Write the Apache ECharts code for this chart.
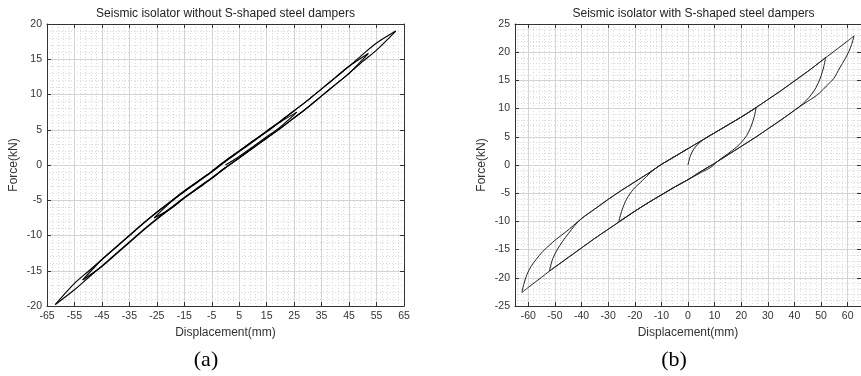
<!DOCTYPE html>
<html><head><meta charset="utf-8">
<script src="https://cdn.jsdelivr.net/npm/echarts@6/dist/echarts.min.js"></script>
<style>html,body{margin:0;padding:0;background:#fff}#c{width:861px;height:376px}</style>
</head><body><div id="c"></div><script>
// ---------- tick labels ----------
const xTicksRight = [-60,-50,-40,-30,-20,-10,0,10,20,30,40,50,60];
const xMinorRight = [-64,-62,-58,-56,-54,-52,-48,-46,-44,-42,-38,-36,-34,-32,-28,-26,-24,-22,-18,-16,-14,-12,-8,-6,-4,-2,2,4,6,8,12,14,16,18,22,24,26,28,32,34,36,38,42,44,46,48,52,54,56,58,62,64];

// ---------- (a) isolator without dampers : branches [disp(mm), force(kN)] ----------
const a1 = [[0,0],[5,1.2],[10,2.6],[15,4.0],[20,5.4],[26,7.5]];
const a2 = [[26,7.5],[20,6.1],[15,4.7],[10,3.3],[5,1.9],[0,0.5],[-5,-1.0],[-10,-2.4],[-15,-3.8],[-20,-5.3],[-26,-7.5]];
const a3 = [[-26,-7.5],[-20,-6.2],[-15,-4.7],[-10,-3.3],[-5,-1.9],[0,-0.4],[5,1.0],[10,2.4],[15,3.8],[20,5.2],[25,6.7],[30,8.2],[35,9.8],[40,11.4],[45,13.0],[52,15.8]];
const a4 = [[52,15.8],[45,14.0],[40,12.4],[35,10.8],[30,9.2],[25,7.7],[20,6.2],[15,4.8],[10,3.4],[5,2.0],[0,0.6],[-5,-0.9],[-10,-2.3],[-15,-3.7],[-20,-5.2],[-25,-6.7],[-30,-8.3],[-35,-10.0],[-40,-11.7],[-45,-13.4],[-52,-16.3]];
const a5 = [[-52,-16.3],[-45,-14.4],[-40,-12.7],[-35,-11.0],[-30,-9.3],[-25,-7.7],[-20,-6.2],[-15,-4.7],[-10,-3.3],[-5,-1.9],[0,-0.4],[5,1.0],[10,2.4],[15,3.8],[20,5.2],[25,6.7],[30,8.2],[35,9.8],[40,11.4],[45,13.0],[50,14.7],[55,16.3],[62,19.0]];
const a6 = [[62,19.0],[55,17.3],[50,15.7],[45,14.0],[40,12.4],[35,10.8],[30,9.2],[25,7.7],[20,6.2],[15,4.8],[10,3.4],[5,2.0],[0,0.6],[-5,-0.9],[-10,-2.3],[-15,-3.7],[-20,-5.2],[-25,-6.7],[-30,-8.3],[-35,-10.0],[-40,-11.7],[-45,-13.4],[-50,-15.1],[-55,-16.8],[-62,-19.8]];
const a7 = [[-62,-19.8],[-55,-17.7],[-50,-16.0],[-45,-14.3],[-40,-12.6],[-35,-10.9],[-30,-9.2],[-25,-7.6],[-20,-6.1],[-15,-4.6],[-10,-3.2],[-5,-1.8],[0,-0.3]];

// ---------- (b) isolator with S-shaped dampers ----------
const b1 = [[0,0],[0.8,1.5],[2,2.7],[3.5,3.6],[5.5,4.4],[8,5.2],[10,5.7],[15,7.1],[20,8.5],[25.6,10.2]];
const b2 = [[25.6,10.2],[24.8,8.4],[23.5,6.6],[22,5.2],[20,4.0],[18.3,3.2],[15,2.0],[12,1.0],[8.6,-0.4],[5,-1.3],[0,-2.6],[-5,-3.9],[-10,-5.3],[-15,-6.7],[-20,-8.2],[-26,-10.05]];
const b3 = [[-26,-10.05],[-24.8,-8.0],[-23,-6.0],[-20.5,-4.3],[-17,-2.7],[-14,-1.3],[-11,-0.2],[-10,0.1],[-5,1.5],[0,2.9],[5,4.3],[10,5.7],[15,7.1],[20,8.5],[25,10.0],[30,11.6],[35,13.2],[40,14.9],[45,16.6],[50,18.4],[51.7,19.1]];
const b4 = [[51.7,19.1],[51,17.4],[50,15.8],[48.8,14.4],[47.3,13.1],[45.5,12.0],[43,10.8],[40,9.7],[35,8.0],[30,6.4],[25,4.8],[20,3.3],[15,1.8],[10,0.3],[5,-1.1],[0,-2.6],[-5,-3.9],[-10,-5.3],[-15,-6.7],[-20,-8.2],[-25,-9.8],[-30,-11.4],[-35,-13.0],[-40,-14.7],[-45,-16.4],[-52.1,-18.8]];
const b5 = [[-52.1,-18.8],[-50.8,-16.6],[-49,-14.9],[-47.2,-13.6],[-45,-12.2],[-42.5,-10.7],[-40,-9.5],[-35,-7.8],[-30,-6.1],[-25,-4.5],[-20,-3.0],[-15,-1.5],[-10,0.1],[-5,1.5],[0,2.9],[5,4.3],[10,5.7],[15,7.1],[20,8.5],[25,10.0],[30,11.6],[35,13.2],[40,14.9],[45,16.6],[50,18.4],[55,20.2],[60,22.0],[62.4,22.9]];
const b6 = [[62.4,22.9],[61.5,21.4],[60.5,20.2],[59,18.8],[57,17.2],[54.7,15.3],[52,14.0],[49.5,12.8],[47,11.9],[45,11.3],[40,9.7],[35,8.0],[30,6.4],[25,4.8],[20,3.3],[15,1.8],[10,0.3],[5,-1.1],[0,-2.6],[-5,-3.9],[-10,-5.3],[-15,-6.7],[-20,-8.2],[-25,-9.8],[-30,-11.4],[-35,-13.0],[-40,-14.7],[-45,-16.4],[-52,-18.8],[-55,-19.9],[-60,-21.7],[-62.4,-22.6]];
const b7 = [[-62.4,-22.6],[-61.6,-21.0],[-60.5,-19.4],[-59,-18.0],[-57,-16.7],[-54.5,-15.3],[-52,-14.2],[-49.6,-13.2],[-46,-11.9],[-43,-10.7],[-40,-9.5],[-35,-7.8],[-30,-6.1],[-25,-4.5],[-20,-3.0],[-15,-1.5],[-10,0.1],[-5,1.5],[0,2.9]];

const branchesA = [a1,a2,a3,a4,a5,a6,a7];
const branchesB = [b1,b2,b3,b4,b5,b6,b7];

const FONT = '"Liberation Sans", Arial, sans-serif';
const AX = '#333333';
const MAJOR = '#d4d4d4';
const MINOR = '#d9d9d9';

function axisBase(extra) {
  return Object.assign({
    type: 'value',
    axisLine: { show: true, onZero: false, lineStyle: { color: AX, width: 1 } },
    axisTick: { show: true, inside: true, length: 4, lineStyle: { color: AX } },
    axisLabel: { show: true, color: '#333', fontSize: 10.5, fontFamily: FONT, margin: 5 },
    splitLine: { show: false },
    minorSplitLine: { show: false }
  }, extra);
}
const nameStyle = { color: '#333', fontSize: 12, fontFamily: FONT };

const chart = echarts.init(document.getElementById('c'), null, { renderer: 'canvas' });

const series = [];
branchesA.forEach(b => series.push({ type: 'line', xAxisIndex: 0, yAxisIndex: 0, data: b, showSymbol: false, symbol: 'none', smooth: 0.3, lineStyle: { color: '#000000', width: 1.15 }, animation: false, silent: true }));
branchesB.forEach(b => series.push({ type: 'line', xAxisIndex: 2, yAxisIndex: 2, data: b, showSymbol: false, symbol: 'none', smooth: 0.3, lineStyle: { color: '#222222', width: 1 }, animation: false, silent: true }));

chart.setOption({
  animation: false,
  backgroundColor: '#ffffff',
  grid: [
    { left: 47, top: 24, width: 357, height: 282, containLabel: false },
    { left: 515, top: 24, width: 357, height: 282, containLabel: false }
  ],
  xAxis: [
    axisBase({ gridIndex: 0, position: 'bottom', min: -65, max: 65, interval: 10,
      splitLine: { show: true, lineStyle: { color: MAJOR, width: 1 } },
      minorTick: { show: false, splitNumber: 5 },
      minorSplitLine: { show: true, lineStyle: { color: MINOR, width: 1, type: [1, 2] } },
      name: 'Displacement(mm)', nameLocation: 'middle', nameGap: 21, nameTextStyle: nameStyle }),
    axisBase({ gridIndex: 0, position: 'top', min: -65, max: 65, interval: 10, axisLabel: { show: false } }),
    axisBase({ gridIndex: 1, position: 'bottom', min: -65, max: 65, interval: 10,
      axisLabel: { show: true, color: '#333', fontSize: 10.5, fontFamily: FONT, margin: 5, customValues: xTicksRight },
      axisTick: { show: true, inside: true, length: 4, lineStyle: { color: AX }, customValues: xTicksRight },
      splitLine: { show: true, lineStyle: { color: MAJOR, width: 1 } },
      name: 'Displacement(mm)', nameLocation: 'middle', nameGap: 21, nameTextStyle: nameStyle }),
    axisBase({ gridIndex: 1, position: 'top', min: -65, max: 65, interval: 10, axisLabel: { show: false },
      axisTick: { show: true, inside: true, length: 4, lineStyle: { color: AX }, customValues: xTicksRight } }),
    axisBase({ gridIndex: 1, position: 'bottom', min: -65, max: 65, interval: 10,
      axisLine: { show: false }, axisLabel: { show: false },
      axisTick: { show: false, customValues: xMinorRight },
      splitLine: { show: true, lineStyle: { color: MINOR, width: 1, type: [1, 2] } } })
  ],
  yAxis: [
    axisBase({ gridIndex: 0, position: 'left', min: -20, max: 20, interval: 5,
      splitLine: { show: true, lineStyle: { color: MAJOR, width: 1 } },
      minorTick: { show: false, splitNumber: 5 },
      minorSplitLine: { show: true, lineStyle: { color: MINOR, width: 1, type: [1, 2] } },
      name: 'Force(kN)', nameLocation: 'middle', nameGap: 27, nameTextStyle: nameStyle }),
    axisBase({ gridIndex: 0, position: 'right', min: -20, max: 20, interval: 5, axisLabel: { show: false } }),
    axisBase({ gridIndex: 1, position: 'left', min: -25, max: 25, interval: 5,
      splitLine: { show: true, lineStyle: { color: MAJOR, width: 1 } },
      minorTick: { show: false, splitNumber: 5 },
      minorSplitLine: { show: true, lineStyle: { color: MINOR, width: 1, type: [1, 2] } },
      name: 'Force(kN)', nameLocation: 'middle', nameGap: 27, nameTextStyle: nameStyle }),
    axisBase({ gridIndex: 1, position: 'right', min: -25, max: 25, interval: 5, axisLabel: { show: false } })
  ],
  graphic: [
    { type: 'text', x: 225.5, y: 14, style: { text: 'Seismic isolator without S-shaped steel dampers', align: 'center', verticalAlign: 'middle', fontSize: 12, fontFamily: FONT, fill: '#222' } },
    { type: 'text', x: 693.5, y: 14, style: { text: 'Seismic isolator with S-shaped steel dampers', align: 'center', verticalAlign: 'middle', fontSize: 12, fontFamily: FONT, fill: '#222' } },
    { type: 'text', x: 206, y: 360, style: { text: '(a)', align: 'center', verticalAlign: 'middle', fontSize: 22, fontFamily: '"Liberation Serif", "Times New Roman", serif', fill: '#000' } },
    { type: 'text', x: 674, y: 360, style: { text: '(b)', align: 'center', verticalAlign: 'middle', fontSize: 22, fontFamily: '"Liberation Serif", "Times New Roman", serif', fill: '#000' } }
  ],
  series: series
});
</script></body></html>
